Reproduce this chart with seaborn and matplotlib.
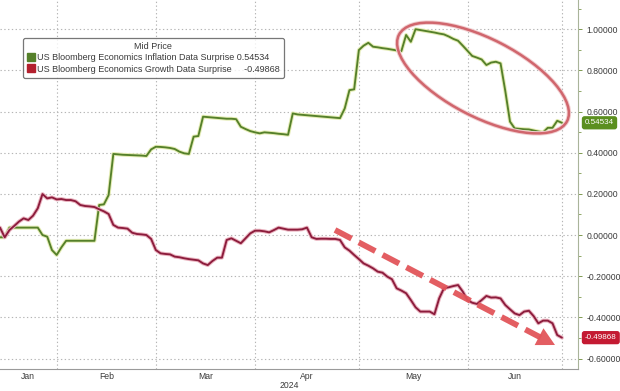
import numpy as np
import pandas as pd
import matplotlib
matplotlib.use("Agg")
import matplotlib.pyplot as plt
import seaborn as sns
from matplotlib import patheffects as pe
from matplotlib import patches, transforms
from matplotlib.lines import Line2D
from matplotlib.ticker import FormatStrFormatter, MultipleLocator

# ---------------- data (business days from 2024-01-16) ----------------
start_date = "2024-01-16"
month_edges = ["2024-01-16", "2024-02-01", "2024-03-01", "2024-04-01",
               "2024-05-01", "2024-06-03", "2024-07-01"]
month_names = ["Jan", "Feb", "Mar", "Apr", "May", "Jun"]
year_label = "2024"

inflation = [
    -0.011, -0.011, 0.036, 0.036, 0.036, 0.036, 0.036, 0.036, 0.036, 0.000,
    -0.008, -0.073, -0.097, -0.060, -0.028, -0.028, -0.028, -0.028, -0.028, -0.028,
    -0.028, 0.146, 0.149, 0.194, 0.394, 0.392, 0.390, 0.389, 0.388, 0.387,
    0.386, 0.384, 0.416, 0.429, 0.428, 0.426, 0.423, 0.418, 0.405, 0.397,
    0.394, 0.478, 0.481, 0.575, 0.573, 0.571, 0.569, 0.567, 0.565, 0.565,
    0.563, 0.526, 0.515, 0.505, 0.499, 0.494, 0.499, 0.497, 0.495, 0.492,
    0.490, 0.487, 0.591, 0.586, 0.584, 0.582, 0.580, 0.578, 0.576, 0.574,
    0.572, 0.570, 0.568, 0.615, 0.704, 0.708, 0.899, 0.920, 0.934, 0.915,
    0.912, 0.908, 0.905, 0.901, 0.897, 0.894, 0.972, 0.939, 1.000, 0.996,
    0.992, 0.988, 0.984, 0.979, 0.975, 0.965, 0.953, 0.944, 0.920, 0.895,
    0.870, 0.862, 0.853, 0.826, 0.838, 0.842, 0.834, 0.700, 0.551, 0.518,
    0.516, 0.514, 0.513, 0.508, 0.503, 0.499, 0.521, 0.521, 0.555, 0.54534,
]
growth = [
    0.036, -0.011, 0.024, 0.044, 0.065, 0.081, 0.073, 0.094, 0.130, 0.199,
    0.178, 0.183, 0.173, 0.175, 0.170, 0.170, 0.164, 0.146, 0.141, 0.139,
    0.136, 0.125, 0.115, 0.102, 0.049, 0.036, 0.034, 0.031, 0.011, 0.005,
    0.003, 0.000, -0.019, -0.073, -0.089, -0.092, -0.094, -0.105, -0.108, -0.113,
    -0.117, -0.120, -0.123, -0.138, -0.146, -0.126, -0.110, -0.110, -0.024, -0.016,
    -0.028, -0.040, -0.016, 0.008, 0.021, 0.021, 0.018, 0.013, 0.024, 0.036,
    0.031, 0.026, 0.026, 0.026, 0.028, 0.036, -0.011, -0.019, -0.018, -0.018,
    -0.019, -0.019, -0.024, -0.060, -0.076, -0.097, -0.117, -0.138, -0.149, -0.162,
    -0.178, -0.183, -0.202, -0.215, -0.259, -0.270, -0.283, -0.316, -0.351, -0.372,
    -0.372, -0.372, -0.385, -0.308, -0.259, -0.254, -0.248, -0.243, -0.275, -0.316,
    -0.329, -0.335, -0.316, -0.296, -0.304, -0.303, -0.308, -0.340, -0.361, -0.381,
    -0.389, -0.372, -0.368, -0.394, -0.429, -0.416, -0.416, -0.429, -0.486, -0.49868,
]
series_names = ["US Bloomberg Economics Inflation Data Surprise",
                "US Bloomberg Economics Growth Data Surprise"]
last_labels = ["0.54534", "-0.49868"]
legend_title = "Mid Price"
y_ticks = [-0.6, -0.4, -0.2, 0.0, 0.2, 0.4, 0.6, 0.8, 1.0]

# ---------------- styling ----------------
sns.set_style("white")
plt.rcParams["font.family"] = ["Liberation Sans", "DejaVu Sans"]
plt.rcParams["axes.unicode_minus"] = False

GREEN = "#55802a"
RED = "#8c1c3c"
TAG_GREEN = "#5b8f1f"
TAG_RED = "#c41a32"
GRID = "#b5b5b5"
TXT = "#3a3a3a"

day = np.arange(len(inflation))
df = pd.DataFrame({"day": np.concatenate([day, day]),
                   "value": np.concatenate([inflation, growth]),
                   "series": [series_names[0]] * len(day) + [series_names[1]] * len(day)})

fig = plt.figure(figsize=(6.2, 3.91), dpi=100)
ax = fig.add_axes([0.0, 22 / 391, 578 / 620, 369 / 391])

sns.lineplot(data=df, x="day", y="value", hue="series",
             palette={series_names[0]: GREEN, series_names[1]: RED},
             linewidth=1.35, legend=False, ax=ax, zorder=3)
halo = {GREEN: "#e4ecb4", RED: "#eab4c0"}
for ln, c in zip(ax.lines, [GREEN, RED]):
    ln.set_path_effects([pe.Stroke(linewidth=2.8, foreground=halo[c]), pe.Normal()])

# axes limits
ax.set_xlim(0, 122.4)
ax.set_ylim(-0.651, 1.142)

# x ticks: month boundaries (ticks) and month centers (labels)
bounds = np.array([np.busday_count(start_date, d) for d in month_edges], dtype=float)
ax.set_xticks(bounds[1:])
ax.set_xticklabels([""] * (len(bounds) - 1))
centers = (bounds[:-1] + bounds[1:]) / 2
ax.set_xticks(centers, minor=True)
ax.set_xticklabels(month_names, minor=True)
ax.tick_params(axis="x", which="major", length=3, width=0.6, color="#888888", direction="out")
ax.tick_params(axis="x", which="minor", length=0, pad=2.5, labelsize=6.2, labelcolor=TXT)
ax.set_xlabel(year_label, fontsize=6.2, color=TXT, labelpad=-0.5)
ax.set_ylabel("")

# y ticks on right
ax.yaxis.tick_right()
ax.set_yticks(y_ticks)
ax.yaxis.set_major_formatter(FormatStrFormatter("%.5f"))
ax.yaxis.set_minor_locator(MultipleLocator(0.1))
ax.tick_params(axis="y", which="major", length=3, width=0.7, color="#7f9a50", pad=3,
               labelsize=6.2, labelcolor=TXT)
ax.tick_params(axis="y", which="minor", length=2, width=0.6, color="#7f9a50")

# grid
ax.grid(True, which="major", axis="both", color=GRID, linestyle=(0, (1.2, 2.2)), linewidth=0.8)
ax.set_axisbelow(True)

for s in ["top", "left"]:
    ax.spines[s].set_visible(False)
ax.spines["right"].set_color("#a9b49a")
ax.spines["right"].set_linewidth(0.8)
ax.spines["bottom"].set_color("#9a9a9a")
ax.spines["bottom"].set_linewidth(0.8)

# legend
handles = [Line2D([], [], marker="s", linestyle="", markersize=6, color=GREEN, markeredgecolor=GREEN),
           Line2D([], [], marker="s", linestyle="", markersize=6, color="#b3202e", markeredgecolor="#b3202e")]
labels = [f"{series_names[0]} {last_labels[0]}", f"{series_names[1]}     {last_labels[1]}"]
leg = ax.legend(handles, labels, title=legend_title, loc="upper left",
                bbox_to_anchor=(23 / 578, 1 - 38 / 369), fontsize=6.5, title_fontsize=6.5,
                frameon=True, fancybox=True, borderpad=0.45, labelspacing=0.25,
                handletextpad=0.2, handlelength=0.9, borderaxespad=0.0)
leg.get_frame().set_edgecolor("#555555")
leg.get_frame().set_linewidth(0.9)
for t in leg.get_texts():
    t.set_color(TXT)
leg.get_title().set_color(TXT)

# last-value tags
tr = transforms.blended_transform_factory(ax.transAxes, ax.transData)
for val, txt, col in [(inflation[-1], last_labels[0], TAG_GREEN), (growth[-1], last_labels[1], TAG_RED)]:
    ax.text(1.012, val, txt, transform=tr, fontsize=5.8, color="white", ha="left", va="center",
            bbox=dict(boxstyle="round,pad=0.3,rounding_size=0.25", fc=col, ec=col), clip_on=False, zorder=6)

# annotations (pixel coordinates of the figure)
ident = transforms.IdentityTransform()
H = 391
ell = patches.Ellipse((483, H - 78), width=189, height=78, angle=-27.2, fill=False,
                      edgecolor="#d0666d", linewidth=1.8, transform=ident, zorder=5)
ell.set_path_effects([pe.Stroke(linewidth=3.2, foreground="#f2cfd1"), pe.Normal()])
fig.add_artist(ell)

p0 = np.array([335.0, H - 230.0])
tip = np.array([555.0, H - 345.0])
d = (tip - p0) / np.linalg.norm(tip - p0)
perp = np.array([-d[1], d[0]])
head_len, head_w = 18.0, 19.0
base = tip - d * head_len
shaft_end = base + d * 2
arrow_col = "#e2555a"
fig.add_artist(Line2D([p0[0], shaft_end[0]], [p0[1], shaft_end[1]], transform=ident,
                      color=arrow_col, linewidth=4.2, linestyle=(0, (3.2, 1.4)),
                      solid_capstyle="butt", dash_capstyle="butt", alpha=0.95, zorder=5))
tri = patches.Polygon([tip, base + perp * head_w / 2, base - perp * head_w / 2], closed=True,
                      transform=ident, facecolor=arrow_col, edgecolor="none", alpha=0.95, zorder=5)
fig.add_artist(tri)

fig.savefig("out.png", dpi=100)
